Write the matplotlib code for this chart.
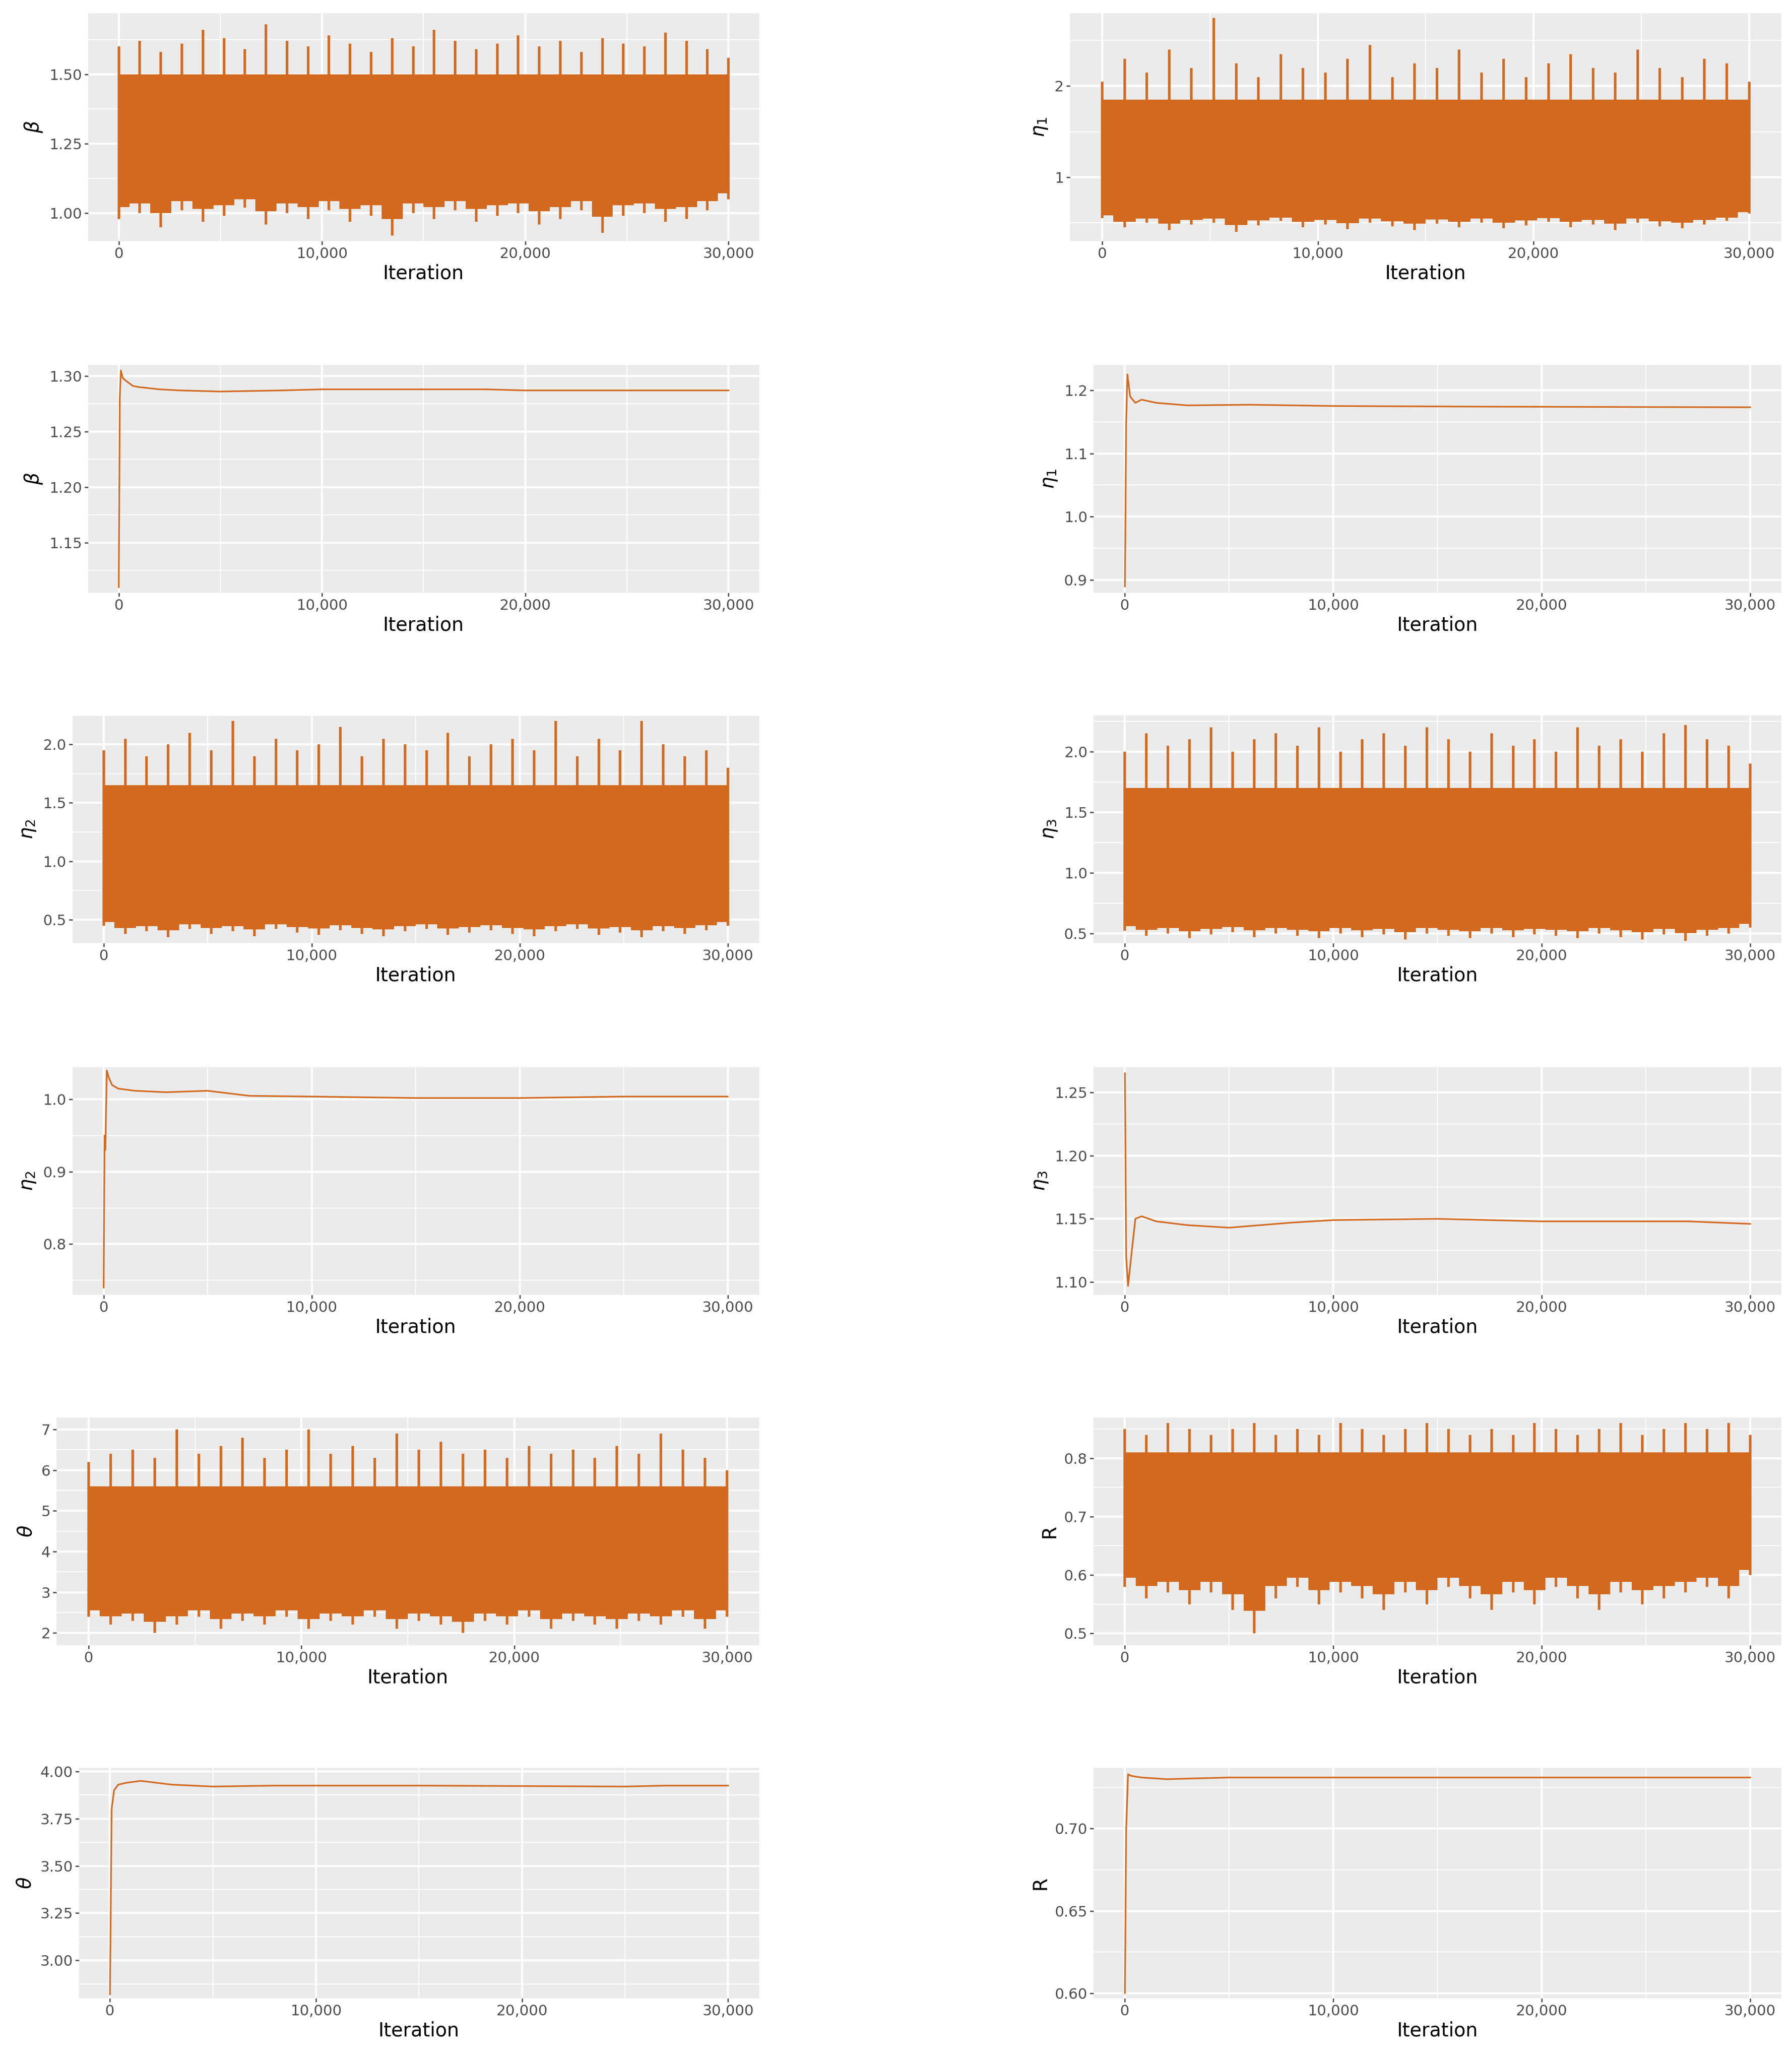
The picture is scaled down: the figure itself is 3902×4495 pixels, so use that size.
import numpy as np
import matplotlib
matplotlib.use("Agg")
import matplotlib.pyplot as plt
from matplotlib.ticker import FuncFormatter, AutoMinorLocator, FixedLocator

# ---- data ----
bins = np.linspace(0, 30000, 30)

beta_hi = [1.60,1.62,1.58,1.61,1.66,1.63,1.59,1.68,1.62,1.60,1.64,1.61,1.58,1.63,1.60,1.66,1.62,1.59,1.61,1.64,1.60,1.62,1.58,1.63,1.61,1.60,1.65,1.62,1.59,1.56]
beta_lo = [0.98,1.00,0.95,1.01,0.97,0.99,1.02,0.96,1.00,0.98,1.01,0.97,0.99,0.92,1.00,0.98,1.01,0.97,0.99,1.00,0.96,0.98,1.01,0.93,0.99,1.00,0.97,0.98,1.01,1.05]
eta1_hi = [2.05,2.30,2.15,2.40,2.20,2.75,2.25,2.10,2.35,2.20,2.15,2.30,2.45,2.10,2.25,2.20,2.40,2.15,2.30,2.10,2.25,2.35,2.20,2.15,2.40,2.20,2.10,2.30,2.25,2.05]
eta1_lo = [0.55,0.45,0.50,0.42,0.48,0.50,0.40,0.47,0.52,0.45,0.48,0.43,0.50,0.46,0.42,0.49,0.45,0.50,0.44,0.47,0.51,0.45,0.48,0.42,0.50,0.46,0.44,0.48,0.52,0.60]
eta2_hi = [1.95,2.05,1.90,2.00,2.10,1.95,2.20,1.90,2.05,1.95,2.00,2.15,1.90,2.05,2.00,1.95,2.10,1.90,2.00,2.05,1.95,2.20,1.90,2.05,1.95,2.20,2.00,1.90,1.95,1.80]
eta2_lo = [0.45,0.38,0.40,0.35,0.42,0.38,0.40,0.36,0.42,0.39,0.37,0.41,0.38,0.36,0.40,0.42,0.37,0.39,0.41,0.38,0.36,0.40,0.42,0.37,0.39,0.35,0.40,0.38,0.41,0.45]
eta3_hi = [2.00,2.15,2.05,2.10,2.20,2.00,2.10,2.15,2.05,2.20,2.00,2.10,2.15,2.05,2.20,2.10,2.00,2.15,2.05,2.10,2.00,2.20,2.05,2.10,2.00,2.15,2.22,2.10,2.05,1.90]
eta3_lo = [0.52,0.48,0.50,0.46,0.49,0.51,0.47,0.50,0.48,0.46,0.50,0.47,0.49,0.45,0.50,0.48,0.46,0.50,0.47,0.49,0.48,0.46,0.50,0.47,0.45,0.49,0.44,0.48,0.50,0.55]
theta_hi = [6.2,6.4,6.5,6.3,7.0,6.4,6.6,6.8,6.3,6.5,7.0,6.4,6.6,6.3,6.9,6.5,6.7,6.4,6.5,6.3,6.6,6.4,6.5,6.3,6.6,6.4,6.9,6.5,6.3,6.0]
theta_lo = [2.4,2.2,2.3,2.0,2.2,2.4,2.1,2.3,2.2,2.4,2.1,2.3,2.2,2.4,2.1,2.3,2.2,2.0,2.3,2.2,2.4,2.1,2.3,2.2,2.1,2.3,2.2,2.4,2.1,2.4]
r_hi = [0.85,0.84,0.86,0.85,0.84,0.85,0.86,0.84,0.85,0.84,0.86,0.85,0.84,0.85,0.86,0.85,0.84,0.85,0.84,0.86,0.85,0.84,0.85,0.86,0.84,0.85,0.86,0.85,0.86,0.84]
r_lo = [0.58,0.56,0.57,0.55,0.57,0.54,0.50,0.56,0.58,0.55,0.57,0.56,0.54,0.57,0.55,0.58,0.56,0.54,0.57,0.55,0.58,0.56,0.54,0.57,0.55,0.56,0.57,0.58,0.56,0.60]

# central band of each trace (lower, upper)
beta_core = (1.12, 1.50)
eta1_core = (0.65, 1.85)
eta2_core = (0.55, 1.65)
eta3_core = (0.65, 1.70)
theta_core = (2.9, 5.6)
r_core = (0.63, 0.81)

# running means
beta_mx = [0,50,100,200,400,700,1000,2000,3000,5000,8000,10000,15000,18000,20000,30000]
beta_my = [1.11,1.28,1.305,1.298,1.295,1.291,1.290,1.288,1.287,1.286,1.287,1.288,1.288,1.288,1.287,1.287]
eta1_mx = [0,60,120,250,500,800,1500,3000,6000,10000,17000,30000]
eta1_my = [0.89,1.15,1.225,1.19,1.18,1.185,1.18,1.176,1.177,1.175,1.174,1.173]
eta2_mx = [0,40,80,150,250,400,700,1500,3000,5000,7000,10000,15000,20000,25000,30000]
eta2_my = [0.74,0.95,0.93,1.04,1.03,1.02,1.015,1.012,1.01,1.012,1.005,1.004,1.002,1.002,1.004,1.004]
eta3_mx = [0,60,150,300,500,800,1500,3000,5000,8000,10000,15000,20000,27000,30000]
eta3_my = [1.265,1.12,1.097,1.12,1.15,1.152,1.148,1.145,1.143,1.147,1.149,1.150,1.148,1.148,1.146]
theta_mx = [0,80,200,400,800,1500,3000,5000,8000,15000,25000,27000,30000]
theta_my = [2.82,3.80,3.90,3.93,3.94,3.95,3.93,3.92,3.925,3.925,3.92,3.925,3.925]
r_mx = [0,60,150,300,800,2000,5000,10000,30000]
r_my = [0.60,0.70,0.733,0.732,0.731,0.730,0.731,0.731,0.731]

COL = '#D2691E'
W, H = 1360, 1567  # layout units of the reference

fig = plt.figure(figsize=(39.02, 44.95), dpi=100)


def make_ax(x0, x1, y0, y1, ylabel, ylim, yticks, yfmt):
    ax = fig.add_axes([x0 / W, 1 - y1 / H, (x1 - x0) / W, (y1 - y0) / H])
    ax.set_facecolor('#EBEBEB')
    for s in ax.spines.values():
        s.set_visible(False)
    ax.set_xlim(-1500, 31500)
    ax.set_ylim(*ylim)
    ax.set_xticks([0, 10000, 20000, 30000])
    ax.xaxis.set_major_formatter(FuncFormatter(lambda v, p: f'{int(v):,}'))
    ax.xaxis.set_minor_locator(FixedLocator([5000, 15000, 25000]))
    ax.set_yticks(yticks)
    ax.yaxis.set_major_formatter(FuncFormatter(lambda v, p: yfmt.format(v)))
    ax.yaxis.set_minor_locator(AutoMinorLocator(2))
    ax.grid(which='major', color='white', lw=3.2)
    ax.grid(which='minor', color='white', lw=1.6)
    ax.set_axisbelow(True)
    ax.tick_params(which='major', labelsize=23, colors='#4D4D4D', length=6, width=2, labelcolor='#4D4D4D')
    ax.tick_params(which='minor', length=0)
    ax.set_xlabel('Iteration', fontsize=30, labelpad=4)
    ax.set_ylabel(ylabel, fontsize=30, labelpad=8)
    return ax


def trace(ax, lo, hi, core):
    ax.fill_between([0, 30000], core[0], core[1], color=COL, lw=0, zorder=3)
    ax.vlines(bins, lo, hi, color=COL, lw=4, zorder=3)
    ax.fill_between(bins, [min(l + 0.15 * (core[0] - l) * 2, core[0]) for l in lo],
                    core[0], color=COL, lw=0, step='mid', zorder=3)


def mean(ax, mx, my):
    ax.plot(mx, my, color=COL, lw=2.5, zorder=3)


L, R = 576, 1352
a = make_ax(67, L, 10, 183, r'$\beta$', (0.9, 1.72), [1.00, 1.25, 1.50], '{:.2f}')
trace(a, beta_lo, beta_hi, beta_core)
a = make_ax(812, R, 10, 183, r'$\eta_1$', (0.3, 2.8), [1, 2], '{:.0f}')
trace(a, eta1_lo, eta1_hi, eta1_core)

a = make_ax(67, L, 277, 450, r'$\beta$', (1.105, 1.31), [1.15, 1.20, 1.25, 1.30], '{:.2f}')
mean(a, beta_mx, beta_my)
a = make_ax(830, R, 277, 450, r'$\eta_1$', (0.88, 1.24), [0.9, 1.0, 1.1, 1.2], '{:.1f}')
mean(a, eta1_mx, eta1_my)

a = make_ax(55, L, 543, 716, r'$\eta_2$', (0.3, 2.25), [0.5, 1.0, 1.5, 2.0], '{:.1f}')
trace(a, eta2_lo, eta2_hi, eta2_core)
a = make_ax(830, R, 543, 716, r'$\eta_3$', (0.42, 2.3), [0.5, 1.0, 1.5, 2.0], '{:.1f}')
trace(a, eta3_lo, eta3_hi, eta3_core)

a = make_ax(55, L, 810, 983, r'$\eta_2$', (0.73, 1.045), [0.8, 0.9, 1.0], '{:.1f}')
mean(a, eta2_mx, eta2_my)
a = make_ax(830, R, 810, 983, r'$\eta_3$', (1.09, 1.27), [1.10, 1.15, 1.20, 1.25], '{:.2f}')
mean(a, eta3_mx, eta3_my)

a = make_ax(43, L, 1076, 1249, r'$\theta$', (1.7, 7.3), [2, 3, 4, 5, 6, 7], '{:.0f}')
trace(a, theta_lo, theta_hi, theta_core)
a = make_ax(830, R, 1076, 1249, 'R', (0.48, 0.87), [0.5, 0.6, 0.7, 0.8], '{:.1f}')
trace(a, r_lo, r_hi, r_core)

a = make_ax(60, L, 1342, 1517, r'$\theta$', (2.8, 4.02), [3.00, 3.25, 3.50, 3.75, 4.00], '{:.2f}')
mean(a, theta_mx, theta_my)
a = make_ax(830, R, 1342, 1517, 'R', (0.597, 0.737), [0.60, 0.65, 0.70], '{:.2f}')
mean(a, r_mx, r_my)

fig.savefig('out.png', dpi=100, facecolor='white')
